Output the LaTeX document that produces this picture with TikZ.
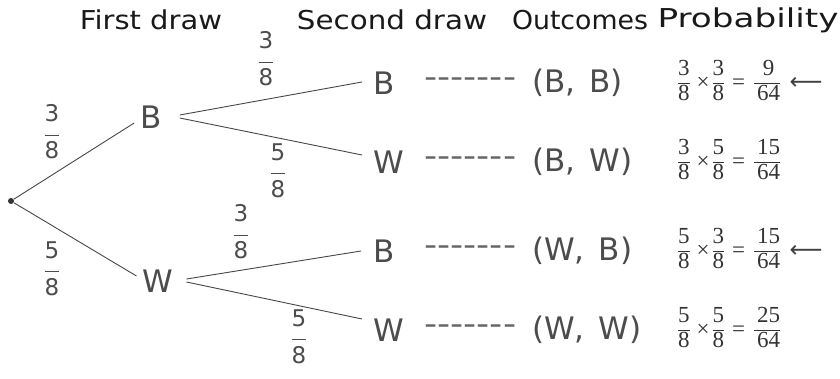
\documentclass[tikz,border=0pt]{standalone}
\usepackage{fontspec}
\usepackage{graphicx}
\setmainfont{DejaVu Sans}
\newfontfamily\serifdigits{Liberation Serif}
\setlength{\arrayrulewidth}{0.8pt}
% stacked fraction: numerator, bar, denominator (optional gap around the bar)
\newcommand{\vfr}[3][0pt]{\begin{tabular}{@{}c@{}}#2\\[#1]\hline\noalign{\vskip #1}#3\end{tabular}}
% one probability line: a/b x c/d = e/f
\newcommand{\probline}[6]{\vfr{#1}{#2}\hspace{7pt}×\hspace{3pt}\vfr{#3}{#4}\hspace{8pt}=\hspace{9pt}\vfr{\hspace{3pt}#5\hspace{3pt}}{\hspace{3pt}#6\hspace{3pt}}}
% heading stretched to a given width
\newcommand{\headw}[2]{\resizebox{#1}{\height}{#2}}
\newcommand{\leader}{\resizebox{92pt}{\height}{‐‐‐‐‐‐‐}}
\begin{document}
\begin{tikzpicture}[x=1pt,y=-1pt,
  title/.style={font=\fontsize{26}{28}\selectfont, text=black!90, inner sep=0},
  letter/.style={font=\fontsize{31}{33}\selectfont, text=black!70, inner sep=0},
  leaderline/.style={font=\fontsize{31}{33}\selectfont, text=black!60, inner sep=0, anchor=west},
  brfrac/.style={font=\fontsize{23}{24}\selectfont, text=black!70, inner sep=0},
  prob/.style={font=\fontsize{23}{24}\selectfont\serifdigits, text=black!80, inner sep=0, anchor=west},
  pointer/.style={font=\fontsize{23}{24}\selectfont, text=black!75, inner sep=0, anchor=west},
  branch/.style={draw=black!72, line width=0.9pt},
]
\useasboundingbox (0,0) rectangle (840,379);

% column headings
\node[title] (t1) at (151,20) {\headw{142pt}{First draw}};
\node[title] (t2) at (392,20) {\headw{190pt}{Second draw}};
\node[title] (t3) at (580,20) {\headw{136pt}{Outcomes}};
\node[title] (t4) at (748,20) {\headw{181pt}{Probability}};

% root and first draw
\node[circle, fill=black!80, inner sep=0, minimum size=6pt] (r) at (11,201) {};
\node[letter] (b1) at (151,117) {B};
\node[letter] (w1) at (158,281) {W};

% second draw
\node[letter, anchor=west] (bb) at (373,83) {B};
\node[letter, anchor=west] (bw) at (373,162) {W};
\node[letter, anchor=west] (wb) at (373,251) {B};
\node[letter, anchor=west] (ww) at (373,330) {W};

% branches
\draw[branch] (r) -- ([shift={(-6,6)}]b1.west);
\draw[branch] (r) -- ([shift={(-6,-5)}]w1.west);
\draw[branch] ([shift={(18,-2)}]b1.east) -- ([shift={(-11,-1)}]bb.west);
\draw[branch] ([shift={(18,1)}]b1.east) -- ([shift={(-11,-7)}]bw.west);
\draw[branch] ([shift={(13,-2)}]w1.east) -- ([shift={(-12,0)}]wb.west);
\draw[branch] ([shift={(13,1)}]w1.east) -- ([shift={(-11,-11)}]ww.west);

% branch probabilities
\node[brfrac] (f1) at (52,135) {\vfr[6pt]{3}{8}};
\node[brfrac] (f2) at (52,272) {\vfr[6pt]{5}{8}};
\node[brfrac] (f3) at (266,62) {\vfr[6pt]{3}{8}};
\node[brfrac] (f4) at (278,174) {\vfr[6pt]{5}{8}};
\node[brfrac] (f5) at (241,235) {\vfr[6pt]{3}{8}};
\node[brfrac] (f6) at (299,340) {\vfr[6pt]{5}{8}};

% leaders and outcomes
\node[leaderline] (d1) at (424,83) {\leader};
\node[leaderline] (d2) at (424,162) {\leader};
\node[leaderline] (d3) at (424,251) {\leader};
\node[leaderline] (d4) at (424,330) {\leader};
\node[letter, anchor=west] (o1) at (532,83) {(B,\hspace{14pt}B)};
\node[letter, anchor=west] (o2) at (532,162) {(B,\hspace{14pt}W)};
\node[letter, anchor=west] (o3) at (532,251) {(W,\hspace{14pt}B)};
\node[letter, anchor=west] (o4) at (532,330) {(W,\hspace{14pt}W)};

% probabilities
\node[prob] (p1) at (678,83) {\probline{3}{8}{3}{8}{9}{64}};
\node[prob] (p2) at (678,162) {\probline{3}{8}{5}{8}{15}{64}};
\node[prob] (p3) at (678,251) {\probline{5}{8}{3}{8}{15}{64}};
\node[prob] (p4) at (678,330) {\probline{5}{8}{5}{8}{25}{64}};
\node[pointer] (a1) at ([xshift=9]p1.east) {⟵};
\node[pointer] (a3) at ([xshift=9]p3.east) {⟵};
\end{tikzpicture}
\end{document}
